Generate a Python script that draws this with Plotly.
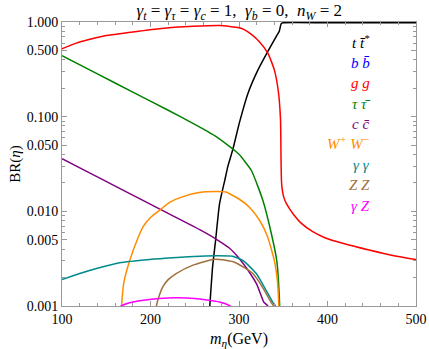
import plotly.graph_objects as go

# branching ratios, one (mass, BR) list per channel
m_tt = [266, 267, 270, 273.6, 278, 283.8, 287.5, 293, 300.7, 310, 321.3, 332.6, 342, 345.5, 347.7, 350, 400, 500]
br_tt = [0.0007, 0.001, 0.0025, 0.005, 0.012, 0.021, 0.030, 0.045, 0.088, 0.175, 0.31, 0.49, 0.70, 0.80, 0.96, 0.98, 0.98, 0.98]

m_gg = [100, 110, 120, 135, 150, 173, 210, 248, 278, 300, 306, 314, 323, 332.6, 340, 344.6, 346.9, 347.5, 347.9, 348.5, 349.6, 351, 353.3, 357, 360.8,
        370.2, 383.3, 398.4, 417, 447, 475, 500]
br_gg = [0.52, 0.57, 0.615, 0.67, 0.72, 0.77, 0.85, 0.90, 0.92, 0.87, 0.83, 0.74, 0.62, 0.47, 0.31, 0.18, 0.093, 0.035, 0.022, 0.018, 0.0155, 0.0137, 0.0122, 0.0107, 0.0095,
         0.0075, 0.0061, 0.0052, 0.0046, 0.0039, 0.0034, 0.0031]

m_tau = [100, 140, 180, 220, 250, 272.5, 291, 300, 314, 327, 336.4, 342.7, 345.8, 346.5]
br_tau = [0.44, 0.283, 0.182, 0.117, 0.083, 0.063, 0.047, 0.040, 0.027, 0.013, 0.0059, 0.003, 0.0011, 0.0005]

m_cc = [100, 130, 165, 210, 255.6, 274, 289, 300, 310, 320, 328, 332.6, 333.5]
br_cc = [0.036, 0.0258, 0.0175, 0.0106, 0.0064, 0.0051, 0.0041, 0.0032, 0.0024, 0.0017, 0.0011, 0.001, 0.0007]

m_ww = [166.8, 167.3, 170, 176.7, 185, 191.7, 200, 210.5, 222, 236.8, 255, 274, 285, 300, 312, 323, 332, 340, 343.5, 345, 345.6]
br_ww = [0.0007, 0.001, 0.0018, 0.00306, 0.005, 0.0069, 0.0086, 0.0103, 0.0125, 0.0143, 0.0158, 0.0162, 0.016, 0.0135, 0.011, 0.0081, 0.0055, 0.003, 0.0018, 0.001, 0.0006]

m_aa = [100, 120, 140, 165, 199, 230, 256, 275, 293, 305, 319.5, 330, 338, 341.3, 342]
br_aa = [0.0019, 0.0022, 0.0025, 0.00286, 0.0031, 0.00325, 0.00336, 0.0034, 0.00336, 0.003, 0.0022, 0.0015, 0.0011, 0.001, 0.0007]

m_zz = [205.5, 206.7, 210, 214, 220, 229, 248, 270.6, 278, 295, 315.7, 328, 336, 339, 339.6]
br_zz = [0.0007, 0.001, 0.0013, 0.0016, 0.0019, 0.0022, 0.0027, 0.0031, 0.0031, 0.0029, 0.0022, 0.0015, 0.0011, 0.001, 0.0007]

m_az = [162, 167, 180, 192, 210, 229, 250, 278, 290, 296]
br_az = [0.0009, 0.001, 0.0011, 0.00115, 0.0012, 0.00122, 0.0012, 0.0011, 0.001, 0.0009]

series = [
    (m_tt, br_tt, 'black'),
    (m_gg, br_gg, 'red'),
    (m_tau, br_tau, '#008000'),
    (m_cc, br_cc, '#800080'),
    (m_ww, br_ww, '#ff8c00'),
    (m_aa, br_aa, '#008b8b'),
    (m_zz, br_zz, '#a0703c'),
    (m_az, br_az, 'magenta'),
]

# legend entries (text, colour), drawn inside the frame
legend_items = [
    ('t t\u0304<sup>*</sup>', 'black'),
    ('b b\u0304', 'blue'),
    ('g g', 'red'),
    ('\u03c4 \u03c4\u0304', '#008000'),
    ('c c\u0304', '#800080'),
    ('W<sup>+</sup> W<sup>\u2212</sup>', '#ff8c00'),
    ('\u03b3 \u03b3', '#008b8b'),
    ('Z Z', '#a0703c'),
    ('\u03b3 Z', 'magenta'),
]

y_ticks = [0.001, 0.005, 0.01, 0.05, 0.1, 0.5, 1.0]
y_ticktext = ['0.001', '0.005', '0.010', '0.050', '0.100', '0.500', '1.000']
x_ticks = [100, 200, 300, 400, 500]

fig = go.Figure()
for m, br, col in series:
    fig.add_trace(go.Scatter(x=m, y=br, mode='lines', showlegend=False,
                             line=dict(color=col, width=1.5, shape='spline', smoothing=0.5)))

# pixel geometry of the plot frame
W, H = 429, 349
L, R, T, B = 62, 12.5, 22.3, 43.3

# anchor legend texts on their bottom so sup / overline glyphs don't shift them
for i, (txt, col) in enumerate(legend_items):
    px, py = 372, 45 + i * 20.3 + 8
    fig.add_annotation(x=(px - L) / (W - L - R), y=1 - (py - T) / (H - T - B),
                       xref='paper', yref='paper', yanchor='bottom', text='<i>' + txt + '</i>',
                       showarrow=False, font=dict(color=col, size=15, family='Liberation Serif'))

axis_common = dict(showline=True, linecolor='#999999', linewidth=1, mirror='ticks',
                   ticks='inside', tickcolor='#999999', showgrid=False, zeroline=False,
                   automargin=False,
                   tickfont=dict(family='Liberation Serif', size=14, color='black'))

sp = '\u00a0'
fig.update_layout(
    width=W, height=H,
    margin=dict(l=L, r=R, t=T, b=B),
    plot_bgcolor='white', paper_bgcolor='white',
    title=dict(text='<i>\u03b3<sub>t</sub></i> = <i>\u03b3<sub>\u03c4</sub></i> = <i>\u03b3<sub>c</sub></i> = 1,' + sp * 2 +
                    '<i>\u03b3<sub>b</sub></i> = 0,' + sp * 2 + '<i>n<sub>W</sub></i> = 2',
               x=(L + (W - L - R) / 2) / W, xanchor='center', y=1 - 10 / H, yanchor='middle',
               font=dict(family='Liberation Serif', size=17, color='black')),
    xaxis=dict(range=[100, 500], tickvals=x_ticks, ticklen=5,
               minor=dict(dtick=20, ticks='inside', ticklen=3, tickcolor='#999999'),
               title=dict(text='<i>m<sub>\u03b7</sub></i>(GeV)', standoff=10,
                          font=dict(family='Liberation Serif', size=16, color='black')),
               **axis_common),
    yaxis=dict(type='log', range=[-3, 0], tickvals=y_ticks, ticktext=y_ticktext, ticklen=5,
               minor=dict(dtick='D1', ticks='inside', ticklen=3, tickcolor='#999999'),
               title=dict(text='BR(<i>\u03b7</i>)', standoff=2,
                          font=dict(family='Liberation Serif', size=15, color='black')),
               **axis_common),
)

# the page body has a default 8px margin; drop it so the figure sits at the window corner
fig.write_html('out.html', config={'displayModeBar': False},
               post_script="document.body.style.margin='0px';")
